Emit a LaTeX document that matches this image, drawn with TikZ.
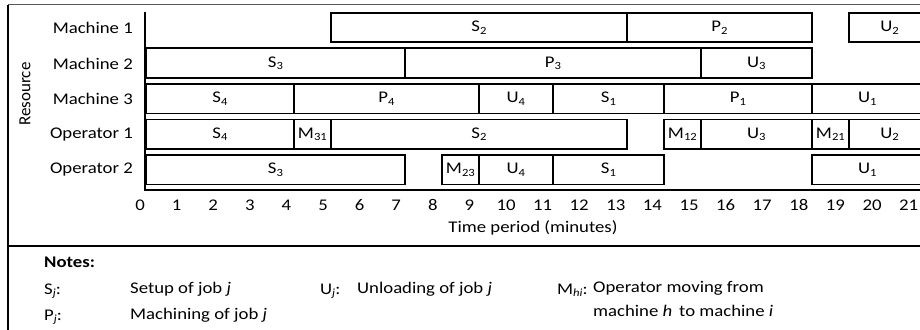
\documentclass[tikz,border=0pt]{standalone}
\usepackage{fontspec}
\setmainfont[FakeStretch=1.15]{Carlito}
\newfontfamily\plainfont{Carlito}
\newcommand\lowsub[1]{\raisebox{-2.5pt}{\fontsize{11}{11}\selectfont #1}}
\newcommand\gbar[5]{%
  \node[ganttbar, minimum width={37*(#4-#3)}] (#1) at ({145+37*#3},{12+35.5*#2}) {#5};}
\begin{document}
\begin{tikzpicture}[x=1pt,y=-1pt,
  every node/.style={font=\fontsize{16.3}{19}\selectfont, inner sep=0pt},
  ganttbar/.style={draw, line width=1.8pt, fill=white, anchor=north west, minimum height=29.5pt},
  axisline/.style={line width=2pt}]
\useasboundingbox (0,0) rectangle (920,329);
\clip (0,0) rectangle (920,329);
% frame
\coordinate (ftl) at (8,5);
\coordinate (ftr) at (935,5);
\coordinate (fbl) at (8,340);
\coordinate (sl) at (8,246);
\coordinate (sr) at (935,246);
\draw[line width=1pt, black!65] (ftl) -- (ftr);
\draw[line width=1.6pt] (ftl) -- (fbl);
\draw[line width=2pt] (sl) -- (sr);
% axes
\coordinate (atop) at (145,12);
\coordinate (aorg) at (145,190);
\coordinate (aend) at (935,190);
\draw[axisline] (atop) -- (aorg) -- (aend);
% row labels
\node[anchor=east] (r0) at (133,28) {Machine 1};
\node[anchor=east] (r1) at (133,63.5) {Machine 2};
\node[anchor=east] (r2) at (133,99) {Machine 3};
\node[anchor=east] (r3) at (133,134.5) {Operator 1};
\node[anchor=east] (r4) at (133,170) {Operator 2};
\node[rotate=90, font=\fontsize{17}{19}\plainfont] (res) at (25,94) {Resource};
% Machine 1
\gbar{maS}{0}{5}{13}{S\lowsub{2}}
\gbar{maP}{0}{13}{18}{P\lowsub{2}}
\gbar{maU}{0}{19}{21.2}{U\lowsub{2}}
% Machine 2
\gbar{mbS}{1}{0}{7}{S\lowsub{3}}
\gbar{mbP}{1}{7}{15}{P\lowsub{3}}
\gbar{mbU}{1}{15}{18}{U\lowsub{3}}
% Machine 3
\gbar{mcS}{2}{0}{4}{S\lowsub{4}}
\gbar{mcP}{2}{4}{9}{P\lowsub{4}}
\gbar{mcU}{2}{9}{11}{U\lowsub{4}}
\gbar{mcSa}{2}{11}{14}{S\lowsub{1}}
\gbar{mcPa}{2}{14}{18}{P\lowsub{1}}
\gbar{mcUa}{2}{18}{21}{U\lowsub{1}}
% Operator 1
\gbar{oaS}{3}{0}{4}{S\lowsub{4}}
\gbar{oaM}{3}{4}{5}{M\lowsub{31}}
\gbar{oaSb}{3}{5}{13}{S\lowsub{2}}
\gbar{oaMb}{3}{14}{15}{M\lowsub{12}}
\gbar{oaU}{3}{15}{18}{U\lowsub{3}}
\gbar{oaMc}{3}{18}{19}{M\lowsub{21}}
\gbar{oaUb}{3}{19}{21.2}{U\lowsub{2}}
% Operator 2
\gbar{obS}{4}{0}{7}{S\lowsub{3}}
\gbar{obM}{4}{8}{9}{M\lowsub{23}}
\gbar{obU}{4}{9}{11}{U\lowsub{4}}
\gbar{obSa}{4}{11}{14}{S\lowsub{1}}
\gbar{obUa}{4}{18}{21}{U\lowsub{1}}
% ticks
\foreach \k in {0,...,21} \node (t\k) at ({140+36.6*\k},205) {\k};
\node (xt) at (533,228) {Time period (minutes)};
% notes
\node[anchor=base west, font=\fontsize{16.3}{19}\selectfont\bfseries] (notes) at (44,267) {Notes:};
\node[anchor=base west] (ks) at (44,294) {S\lowsub{\textit{j}}:};
\node[anchor=base west] (kp) at (44,320) {P\lowsub{\textit{j}}:};
\node[anchor=base west] (ds) at (130,293) {Setup of job \textit{j}};
\node[anchor=base west] (dp) at (130,319) {Machining of job \textit{j}};
\node[anchor=base west] (ku) at (320,294) {U\lowsub{\textit{j}}:};
\node[anchor=base west] (du) at (357,293) {Unloading of job \textit{j}};
\node[anchor=base west] (km) at (557,294) {M\lowsub{\textit{hi}}:};
\node[anchor=base west] (dm) at (593,292) {Operator moving from};
\node[anchor=base west] (dm2) at (593,316) {machine \textit{h}\, to machine \textit{i}};
\end{tikzpicture}
\end{document}
